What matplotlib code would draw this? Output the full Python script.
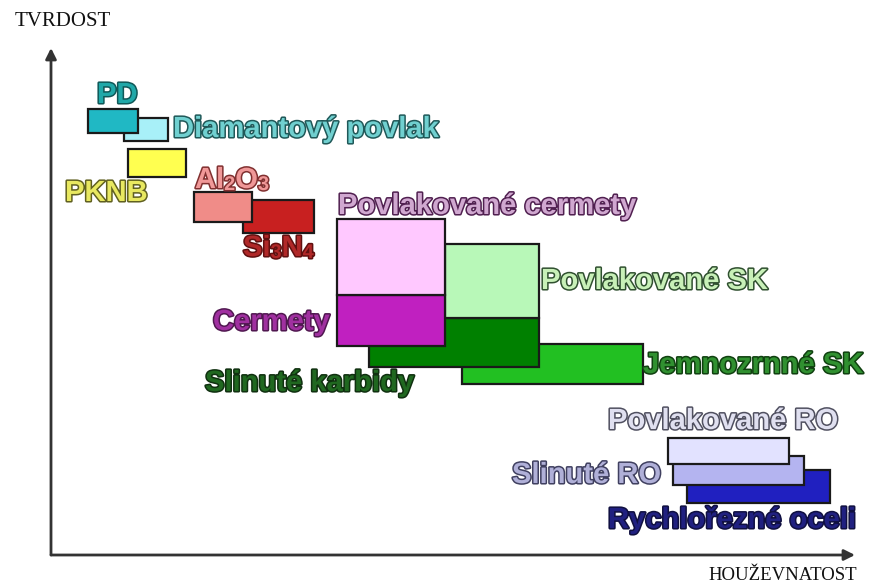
import matplotlib.pyplot as plt
from matplotlib.patches import Rectangle
import matplotlib.patheffects as pe

plt.rcParams['font.family'] = ['Liberation Sans', 'DejaVu Sans']

# materials, drawn in this order (later ones on top)
names = ['Diamantový povlak', 'PD', 'PKNB', 'Si3N4', 'Al2O3',
         'Jemnozrnné SK', 'Slinuté karbidy', 'Povlakované SK', 'Cermety',
         'Povlakované cermety', 'Rychlořezné oceli', 'Slinuté RO',
         'Povlakované RO']
# chemical formulas: digits are written as subscripts
formulas = ['Si3N4', 'Al2O3']
# toughness range (x) and hardness range (y), arbitrary units
tough_lo = [73, 37, 77, 192, 143, 411, 318, 394, 286, 286, 636, 622, 617]
tough_hi = [117, 87, 135, 263, 201, 592, 488, 488, 394, 394, 779, 753, 738]
hard_lo = [414, 422, 378, 322, 333, 171, 188, 237, 209, 260, 52, 70, 91]
hard_hi = [437, 446, 406, 355, 363, 211, 237, 311, 260, 336, 85, 99, 117]

box_colors = ['#a8f0f8', '#20b8c4', '#ffff50', '#c82020', '#f08c88',
              '#22c022', '#008000', '#b8f8b8', '#c020c0', '#ffc8ff',
              '#2020c0', '#b4b4f0', '#e2e2ff']
text_fill = ['#70d0d0', '#20a8a8', '#e8e860', '#b02828', '#f09898',
             '#309030', '#206820', '#c8f0b8', '#a030a0', '#d0a8d0',
             '#202080', '#b0b0d8', '#e0e0f0']
text_edge = ['#205858', '#105858', '#606020', '#601010', '#803030',
             '#104010', '#103010', '#305030', '#501850', '#502050',
             '#101040', '#404060', '#505060']
# label anchor (left, vertical centre)
label_x = [122, 46, 14, 192, 144, 592, 154, 490, 162, 287, 557, 461, 557]
label_y = [426, 460, 362, 307, 375, 190, 172, 274, 233, 349, 35, 80, 134]

FS = 21

fig = plt.figure(figsize=(8.78, 5.87), dpi=100)
ax = fig.add_axes([0, 0, 1, 1])
ax.set_xlim(-51, 827)
ax.set_ylim(-32, 555)
ax.axis('off')


def effects(i):
    return [pe.Stroke(linewidth=2.2, foreground=text_edge[i]), pe.Normal()]


for i in range(len(names)):
    ax.add_patch(Rectangle((tough_lo[i], hard_lo[i]),
                           tough_hi[i] - tough_lo[i], hard_hi[i] - hard_lo[i],
                           facecolor=box_colors[i], edgecolor='#1a1a1a',
                           lw=1.6, zorder=2 + i))
    style = dict(fontweight='bold', color=text_fill[i], zorder=30,
                 path_effects=effects(i))
    if names[i] in formulas:
        # split into element symbols and subscript digits
        parts = []
        for ch in names[i]:
            sub = ch.isdigit()
            if parts and parts[-1][1] == sub:
                parts[-1][0] += ch
            else:
                parts.append([ch, sub])
        first = ax.text(label_x[i], label_y[i], parts[0][0], ha='left',
                        va='center', fontsize=FS, **style)
        prev = first
        for txt, sub in parts[1:]:
            prev = ax.annotate(txt, xy=(1, 0), xycoords=(prev, first),
                               ha='left', va='bottom',
                               fontsize=FS * 0.68 if sub else FS, **style)
    else:
        ax.text(label_x[i], label_y[i], names[i], ha='left', va='center',
                fontsize=FS, **style)

# axes arrows
arrow = dict(arrowstyle='-|>', lw=2, color='#333333', mutation_scale=16,
             shrinkA=0, shrinkB=0)
ax.annotate('', xy=(0, 507), xytext=(0, 0), arrowprops=arrow)
ax.annotate('', xy=(804, 0), xytext=(0, 0), arrowprops=arrow)

ax.text(-36, 533, 'TVRDOST', fontsize=15, family='Liberation Serif',
        ha='left', va='center', color='#111111')
ax.text(657, -20, 'HOUŽEVNATOST', fontsize=13.5, family='Liberation Serif',
        ha='left', va='center', color='#111111')

plt.savefig('out.png')
